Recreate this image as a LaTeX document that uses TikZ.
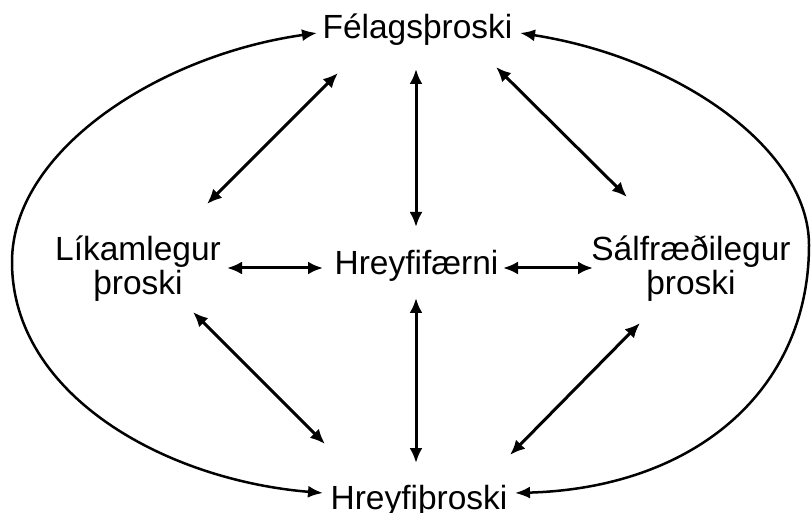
\documentclass[tikz,border=0pt]{standalone}
\usepackage{fontspec}
\setmainfont{Liberation Sans}
\usetikzlibrary{arrows.meta}
\begin{document}
\begin{tikzpicture}[x=1pt,y=-1pt,
  lbl/.style={inner sep=0pt,font=\fontsize{33.5}{35}\selectfont,align=center},
  conn/.style={line width=3pt,{Latex[length=15pt,width=13pt]}-{Latex[length=15pt,width=13pt]}},
  arcline/.style={line width=2.5pt,{Latex[length=15pt,width=12pt]}-{Latex[length=15pt,width=12pt]}}]
\useasboundingbox[fill=white] (0,0) rectangle (812,513);
% labels
\node[lbl,anchor=base] (fel) at (417.5,39) {Félagsþroski};
\node[lbl,anchor=base] (hf) at (416.5,275) {Hreyfifærni};
\node[lbl,anchor=base] (hth) at (419,509) {Hreyfiþroski};
\node[lbl,anchor=base] (lik) at (138,295) {Líkamlegur\\þroski};
\node[lbl,anchor=base] (sal) at (691,295) {Sálfræðilegur\\þroski};
% connector end points
\coordinate (felL) at (338,73);
\coordinate (felB) at (416,69);
\coordinate (felR) at (496,67);
\coordinate (likT) at (207,204);
\coordinate (likR) at (227,268);
\coordinate (likB) at (193,312);
\coordinate (hfT) at (416,227);
\coordinate (hfL) at (323,268);
\coordinate (hfR) at (503,268);
\coordinate (hfB) at (416,298);
\coordinate (salT) at (627,197);
\coordinate (salL) at (593,268);
\coordinate (salB) at (640,323);
\coordinate (hthT) at (416,463);
\coordinate (hthL) at (325,444);
\coordinate (hthR) at (510,455);
\coordinate (felW) at (317,33);
\coordinate (felE) at (520,33);
\coordinate (hthW) at (323,493);
\coordinate (hthE) at (515,493);
% inner connectors
\draw[conn] (felL) -- (likT);
\draw[conn] (felB) -- (hfT);
\draw[conn] (felR) -- (salT);
\draw[conn] (likR) -- (hfL);
\draw[conn] (hfR) -- (salL);
\draw[conn] (likB) -- (hthL);
\draw[conn] (hfB) -- (hthT);
\draw[conn] (salB) -- (hthR);
% outer arcs
\draw[arcline] (felW) .. controls (160,55) and (12,150) .. (12,262)
  .. controls (12,395) and (165,480) .. (hthW);
\draw[arcline] (felE) .. controls (680,58) and (809,150) .. (809,245)
  .. controls (809,390) and (695,488) .. (hthE);
\end{tikzpicture}
\end{document}
